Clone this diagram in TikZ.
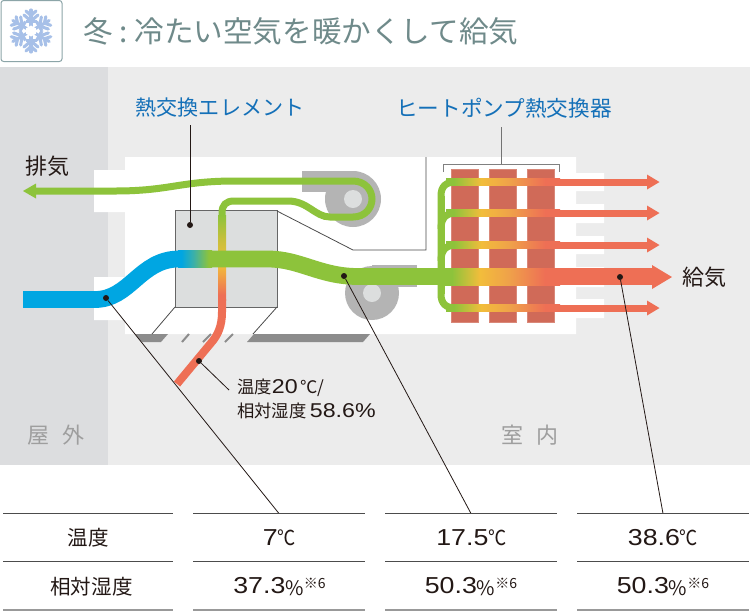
\documentclass[tikz,border=0pt]{standalone}
\usepackage{fontspec}
\setmainfont{Noto Sans CJK JP}
\newfontfamily\numf[FakeStretch=1.16]{Liberation Sans}
\usetikzlibrary{calc}
\definecolor{cgreen}{HTML}{8DC33B}
\definecolor{cyellow}{HTML}{F2BD3B}
\definecolor{corange}{HTML}{EFA04A}
\definecolor{cred}{HTML}{EE6F55}
\definecolor{cblue}{HTML}{00A6E2}
\definecolor{cteal}{HTML}{3CB0A8}
\definecolor{coutdoor}{HTML}{DCDDDF}
\definecolor{cindoor}{HTML}{ECECEC}
\definecolor{cfan}{HTML}{B4B4B4}
\definecolor{cfanin}{HTML}{DCDEDE}
\definecolor{crod}{HTML}{D06A58}
\definecolor{cfloor}{HTML}{8C8C8C}
\definecolor{ctitle}{HTML}{6F8A8A}
\definecolor{clabel}{HTML}{1470B8}
\definecolor{ctext}{HTML}{231815}
\definecolor{csnow}{HTML}{A7C0E8}
\definecolor{cicon}{HTML}{8CA5A8}
\pgfdeclarehorizontalshading{hprod}{100bp}{color(0bp)=(cgreen);color(28.4bp)=(cgreen);color(40.5bp)=(cyellow);color(53.4bp)=(corange);color(68.5bp)=(cred);color(100bp)=(cred)}
\pgfdeclarehorizontalshading{bluegreen}{100bp}{color(0bp)=(cblue);color(30bp)=(cblue);color(48bp)=(cteal);color(70bp)=(cgreen);color(100bp)=(cgreen)}
\pgfdeclareverticalshading{elemrise}{100bp}{color(0bp)=(cred);color(28bp)=(cred);color(45.6bp)=(cyellow);color(60bp)=(cyellow!60!cgreen);color(75bp)=(cgreen);color(100bp)=(cgreen)}
\tikzset{
  pipe/.style={line width=5.25pt,cgreen},
  mainpipe/.style={line width=12.6pt},
  thinpipe/.style={line width=5.25pt,cgreen},
  leader/.style={line width=0.6pt,ctext},
  greyline/.style={line width=0.75pt,black!55},
  dot/.style={circle,fill=ctext,inner sep=0pt,minimum size=4.5pt},
  bluelabel/.style={text=clabel,font=\fontsize{15.8pt}{18pt}\selectfont,inner sep=0pt},
  bluewide/.style={text=clabel,font=\fontsize{16.2pt}{18pt}\selectfont,inner sep=0pt},
  darklabel/.style={text=ctext,font=\fontsize{16.5pt}{18pt}\selectfont,inner sep=0pt},
  placelabel/.style={text=black!38,font=\fontsize{16.5pt}{18pt}\selectfont,inner sep=0pt},
  tablehead/.style={text=ctext,font=\fontsize{15.4pt}{18pt}\selectfont,inner sep=0pt},
  tableval/.style={text=ctext,font=\fontsize{15.5pt}{18pt}\selectfont,inner sep=0pt},
  rule/.style={line width=0.75pt,black!70},
  lastrule/.style={line width=1.5pt,black!40},
  rod/.style={fill=crod,draw=crod!80!white,line width=0.5pt},
  thinhead/.style={fill=cred,draw=none},
  snowarm/.style={line width=2.3pt,csnow,line cap=round},
  ticks/.style={line width=1.5pt,cfloor}
}
\newcommand{\smallmark}{\raisebox{-1.5pt}{\fontsize{15pt}{14pt}\selectfont\%}\raisebox{4pt}{\fontsize{10.5pt}{10pt}\selectfont ※6}}
\newcommand{\tnum}[1]{{\fontsize{17.3pt}{18pt}\numf #1}}
\newcommand{\degc}{\scalebox{.88}[1]{℃}}
\begin{document}
\begin{tikzpicture}[x=0.75pt,y=-0.75pt]
\useasboundingbox (0,0) rectangle (750,612);
\fill[white] (0,0) rectangle (750,612);
% title
\draw[rounded corners=2pt,draw=cicon,fill=white,line width=0.75pt] (1,0.5) rectangle (62,61.5);
\begin{scope}[shift={(31,31)}]
\foreach \a in {0,60,120,180,240,300}{
 \begin{scope}[rotate=\a]
  \draw[snowarm] (0,0) -- (0,-21);
  \draw[snowarm] (0,-10) -- (7,-16) (0,-10) -- (-7,-16);
  \draw[snowarm] (0,-15.5) -- (5,-20) (0,-15.5) -- (-5,-20);
  \draw[line width=2.3pt,csnow] (-5.5,-9.5) -- (5.5,-9.5);
 \end{scope}}
\fill[white] (0,-5.5) -- (4.8,-2.75) -- (4.8,2.75) -- (0,5.5) -- (-4.8,2.75) -- (-4.8,-2.75) -- cycle;
\end{scope}
\node[anchor=west,inner sep=0pt,text=ctitle,font=\fontsize{22.2pt}{24pt}\selectfont] (title) at (83,31) {冬\hspace{5pt}:\hspace{5pt}冷たい空気を暖かくして給気};
% ground
\fill[cindoor] (108,67) rectangle (750,465);
\fill[coutdoor] (0,67) rectangle (108,465);
% building
\fill[white] (125,157) -- (576,157) -- (576,173) -- (604,173) -- (604,191) -- (576,191) -- (576,204) -- (604,204) -- (604,223) -- (576,223) -- (576,236) -- (604,236) -- (604,254) -- (576,254) -- (576,267) -- (604,267) -- (604,287) -- (576,287) -- (576,299) -- (604,299) -- (604,318) -- (576,318) -- (576,334) -- (125,334) -- (125,320) -- (94,320) -- (94,277) -- (125,277) -- (125,212) -- (94,212) -- (94,170) -- (125,170) -- cycle;
% floor
\fill[cfloor] (135,334) -- (168,334) -- (161,342) -- (142,342) -- cycle;
\fill[cfloor] (254,334) -- (370,334) -- (363,342) -- (247,342) -- cycle;
\draw[ticks] (182,342) -- (189,334);
\draw[ticks] (203,342) -- (211,334);
\draw[ticks] (225,342) -- (233,334);
% element and its frame
\draw[line width=0.75pt,black!60,fill=cfanin] (175,210.5) rectangle (277,307);
\draw[line width=0.6pt,black!70] (175,307) -- (152,334);
\draw[line width=0.6pt,black!70] (277,307) -- (253,334);
\draw[line width=0.6pt,black!70] (277,211) -- (353,250) -- (426,250) -- (426,157);
% fans
\fill[cfan] (353,199) circle[radius=28];
\fill[cfan] (302,171) rectangle (353,192);
\fill[cfanin] (353,199) circle[radius=9];
\fill[cfan] (372,293) circle[radius=27];
\fill[cfan] (372,265) rectangle (417,287);
\fill[cfanin] (372,293) circle[radius=9];
% heat pump rods
\fill[rod] (451,169) rectangle (478,322);
\fill[rod] (489,169) rectangle (516,322);
\fill[rod] (527,169) rectangle (554,322);
\draw[line width=0.75pt,black!50] (443,172) -- (443,164) -- (559,164) -- (559,172);
% exhaust
\draw[pipe] (222,218) -- (222,213) .. controls (222,205) and (226,201) .. (234,201) -- (288,201) .. controls (308,201) and (315,217) .. (330,217) -- (353,217) .. controls (365,217) and (372,208) .. (372,199) .. controls (372,190) and (365,181) .. (353,181) -- (235,181) .. controls (180,181) and (170,191) .. (115,191) -- (34,191);
\fill[cgreen] (23,191) -- (36,183.5) -- (36,198.5) -- cycle;
% rising element flow
\shade[shading=elemrise] (218,215) rectangle (226,300);
\draw[line width=6pt,cred] (222,299) -- (222,312) .. controls (222,326) and (218,335) .. (211,343) -- (177,384);
% main duct
\draw[mainpipe,cblue] (23,299.5) -- (95,299.5) .. controls (130,299.5) and (140,259) .. (179,259) ;
\shade[shading=bluegreen] (178,250.7) rectangle (212,267.3);
\draw[mainpipe,cgreen] (211,259) -- (268,259) .. controls (300,259) and (320,276.5) .. (358,276.5) -- (445,276.5);
% manifold
\draw[thinpipe] (456,182) .. controls (446,182) and (441,186) .. (441,196) -- (441,294) .. controls (441,304) and (446,308) .. (456,308);
\draw[thinpipe] (441,229) .. controls (441,218) and (446,213) .. (456,213);
\draw[thinpipe] (441,261) .. controls (441,250) and (446,245) .. (456,245);
% hot rods
\foreach \yy in {182,213,245,308}{
  \shade[shading=hprod] (446,\yy-3.5) rectangle (560,\yy+3.5);
  \fill[thinhead] (559,\yy-3.5) rectangle (648,\yy+3.5);
  \fill[thinhead] (647,\yy-7.5) -- (659.5,\yy) -- (647,\yy+7.5) -- cycle;
}
\draw[thinpipe] (441,196) -- (441,294);
\shade[shading=hprod] (444,268) rectangle (560,285);
\fill[cred] (559,268) rectangle (653,285);
\fill[cred] (652,265) -- (672,277) -- (652,289) -- cycle;
% labels
\node[bluelabel] (elemlabel) at (220,108) {熱交換エレメント};
\node[bluewide] (hplabel) at (504,108) {ヒートポンプ熱交換器};
\node[darklabel] (exhaustlabel) at (48,166) {排気};
\node[darklabel] (supplylabel) at (704,277) {給気};
\node[placelabel] (outlabel) at (56,435) {屋\hspace{10pt}外};
\node[placelabel] (inlabel) at (530,435) {室\hspace{10pt}内};
\node[anchor=west,inner sep=0pt,text=ctext,align=left,font=\fontsize{13pt}{18pt}\selectfont] (roomlabel) at (237,399) {温度{\fontsize{15pt}{18pt}\numf 20}\,℃/\\相対湿度{\fontsize{15pt}{18pt}\numf\,58.6\%}};
% coordinates for leaders
\coordinate (elemtop) at (190,125);
\coordinate (hptop) at (501,127);
\coordinate (hpbr) at (501,164);
\coordinate (roomend) at (229,390);
\coordinate (t1) at (279,513.5);
\coordinate (t2) at (471,513.5);
\coordinate (t3) at (663,513.5);
\node[dot] (delem) at (190,225) {};
\node[dot] (dA) at (106,298) {};
\node[dot] (dB) at (344,276) {};
\node[dot] (dC) at (620,277) {};
\node[dot] (dR) at (199,361) {};
\draw[leader] (elemtop) -- (delem);
\draw[greyline] (hptop) -- (hpbr);
\draw[leader] (dR) -- (roomend);
\draw[leader] (dA) -- (t1);
\draw[leader] (dB) -- (t2);
\draw[leader] (dC) -- (t3);
% table
\foreach \xa/\xb in {3/173,193/365,385/557,577/749}{
  \draw[rule] (\xa,513.5) -- (\xb,513.5);
  \draw[rule] (\xa,561.5) -- (\xb,561.5);
  \draw[lastrule] (\xa,610) -- (\xb,610);
}
\node[tablehead] (h1) at (88,538) {温度};
\node[tablehead] (h2) at (91.5,587) {相対湿度};
\node[tableval] (v1) at (279.5,538) {\tnum{7}\degc};
\node[tableval] (v2) at (471.5,538) {\tnum{17.5}\degc};
\node[tableval] (v3) at (663,538) {\tnum{38.6}\degc};
\node[tableval] (w1) at (279.5,587) {\tnum{37.3}\smallmark};
\node[tableval] (w2) at (471,587) {\tnum{50.3}\smallmark};
\node[tableval] (w3) at (663,587) {\tnum{50.3}\smallmark};
\end{tikzpicture}
\end{document}
